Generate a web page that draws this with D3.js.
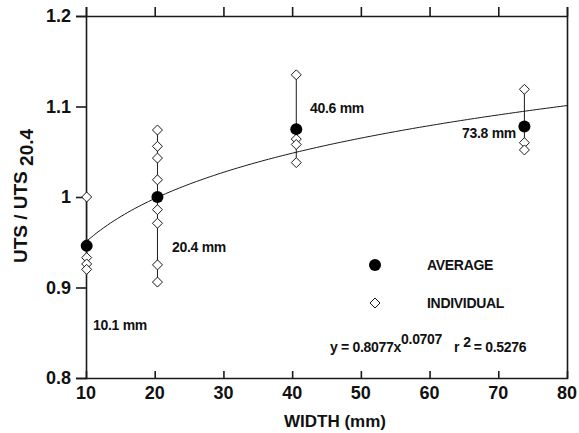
<!DOCTYPE html>
<html><head><meta charset="utf-8">
<script src="https://cdn.jsdelivr.net/npm/d3@7"></script>
<style>
html,body{margin:0;padding:0;background:#fff;}
text{font-family:"Liberation Sans",Arial,sans-serif;font-weight:bold;fill:#111;}
</style></head><body>
<svg id="c" width="579" height="433"></svg>
<script>
// ---- data ----
const widths = [10.1, 20.4, 40.6, 73.8];
const averages = [0.946, 1.000, 1.075, 1.078];
const individual10 = [1.000, 0.948, 0.933, 0.926, 0.920];
const individual20 = [1.074, 1.056, 1.043, 1.019, 0.986, 0.971, 0.925, 0.906];
const individual40 = [1.135, 1.064, 1.058, 1.038];
const individual73 = [1.119, 1.060, 1.052];
const widthLabels = ["10.1 mm", "20.4 mm", "40.6 mm", "73.8 mm"];
const xTicks = [10, 20, 30, 40, 50, 60, 70, 80];
const yTicks = [0.8, 0.9, 1.0, 1.1, 1.2];
const yTickLabels = ["0.8", "0.9", "1", "1.1", "1.2"];
const fitA = 0.8077, fitB = 0.0707, fitR2 = 0.5276;
const fitRange = [10.1, 80];

const individuals = [individual10, individual20, individual40, individual73];

const svg = d3.select("#c");
const L = 86, R = 567, T = 16, B = 378;
const x = d3.scaleLinear().domain([10, 80]).range([L, R]);
const y = d3.scaleLinear().domain([0.8, 1.2]).range([B, T]);
const ink = "#1a1a1a";

// fitted curve (from the printed regression equation)
const fx = d3.range(0, 141).map(i => fitRange[0] + (fitRange[1] - fitRange[0]) * i / 140);
svg.append("path")
  .attr("d", d3.line().x(d => x(d)).y(d => y(fitA * Math.pow(d, fitB)))(fx))
  .attr("fill", "none").attr("stroke", ink).attr("stroke-width", 1);

// range lines
widths.forEach((w, i) => {
  const e = d3.extent(individuals[i]);
  svg.append("line").attr("x1", x(w)).attr("x2", x(w))
    .attr("y1", y(e[0])).attr("y2", y(e[1]))
    .attr("stroke", ink).attr("stroke-width", 1);
});

// axes
const gBottom = svg.append("g").attr("transform", `translate(0,${B})`)
  .call(d3.axisTop(x).tickValues(xTicks.slice(1, -1)).tickSize(7).tickFormat(""));
const gTop = svg.append("g").attr("transform", `translate(0,${T})`)
  .call(d3.axisTop(x).tickValues(xTicks).tickSize(9).tickFormat(""));
const gLeft = svg.append("g").attr("transform", `translate(${L},0)`)
  .call(d3.axisLeft(y).tickValues(yTicks).tickSize(10).tickFormat((d, i) => yTickLabels[i]).tickPadding(5));
const gRight = svg.append("g").attr("transform", `translate(${R},0)`)
  .call(d3.axisRight(y).tickValues([]).tickSize(0));
[gBottom, gTop, gLeft, gRight].forEach(g => {
  g.select(".domain").attr("stroke", ink).attr("stroke-width", 1.6);
  g.selectAll(".tick line").attr("stroke", ink).attr("stroke-width", 1.6);
});
gLeft.selectAll(".tick text").style("font-size", "18px").attr("fill", ink)
  .style("font-family", "'Liberation Sans',Arial,sans-serif").style("font-weight", "bold");
// bottom tick labels
svg.append("g").selectAll("text").data(xTicks).join("text")
  .attr("x", d => x(d)).attr("y", 399).attr("text-anchor", "middle")
  .style("font-size", "18px").text(d => d);

// individual points (diamonds)
const dia = (cx, cy, r) => `M${cx},${cy - r}L${cx + r},${cy}L${cx},${cy + r}L${cx - r},${cy}Z`;
widths.forEach((w, i) => {
  svg.append("g").selectAll("path").data(individuals[i]).join("path")
    .attr("d", d => dia(x(w), y(d), 5))
    .attr("fill", "#fff").attr("stroke", ink).attr("stroke-width", 1);
});
// averages
svg.append("g").selectAll("circle").data(widths).join("circle")
  .attr("cx", d => x(d)).attr("cy", (d, i) => y(averages[i])).attr("r", 6)
  .attr("fill", "#000");

// width labels
const labPos = [[93, 330], [172, 252], [310, 113], [462, 138]];
svg.append("g").selectAll("text").data(widthLabels).join("text")
  .attr("x", (d, i) => labPos[i][0]).attr("y", (d, i) => labPos[i][1])
  .style("font-size", "14px").style("letter-spacing", "-0.3px").text(d => d);

// legend
svg.append("circle").attr("cx", 375).attr("cy", 265).attr("r", 6).attr("fill", "#000");
svg.append("path").attr("d", dia(375, 303, 5)).attr("fill", "#fff").attr("stroke", ink);
svg.append("text").attr("x", 427).attr("y", 270).style("font-size", "14px").style("letter-spacing", "-0.3px").text("AVERAGE");
svg.append("text").attr("x", 427).attr("y", 308).style("font-size", "14px").style("letter-spacing", "-0.3px").text("INDIVIDUAL");

// equation
const eq = svg.append("text").attr("x", 330).attr("y", 352).style("font-size", "14px").style("letter-spacing", "-0.3px");
eq.append("tspan").text(`y = ${fitA}x`);
eq.append("tspan").attr("dy", -8).text(`${fitB}`);
eq.append("tspan").attr("dy", 8).attr("dx", 12).text("r");
eq.append("tspan").attr("dy", -5).attr("dx", 4).text("2");
eq.append("tspan").attr("dy", 5).attr("dx", 3).text(`= ${fitR2}`);

// axis titles
svg.append("text").attr("x", 335).attr("y", 427).attr("text-anchor", "middle")
  .style("font-size", "17px").text("WIDTH (mm)");
const yl = svg.append("text").attr("transform", "translate(27,196) rotate(-90)")
  .attr("text-anchor", "middle").style("font-size", "19px");
yl.append("tspan").text("UTS / UTS ");
yl.append("tspan").attr("dy", 6).text("20.4");
</script>
</body></html>
